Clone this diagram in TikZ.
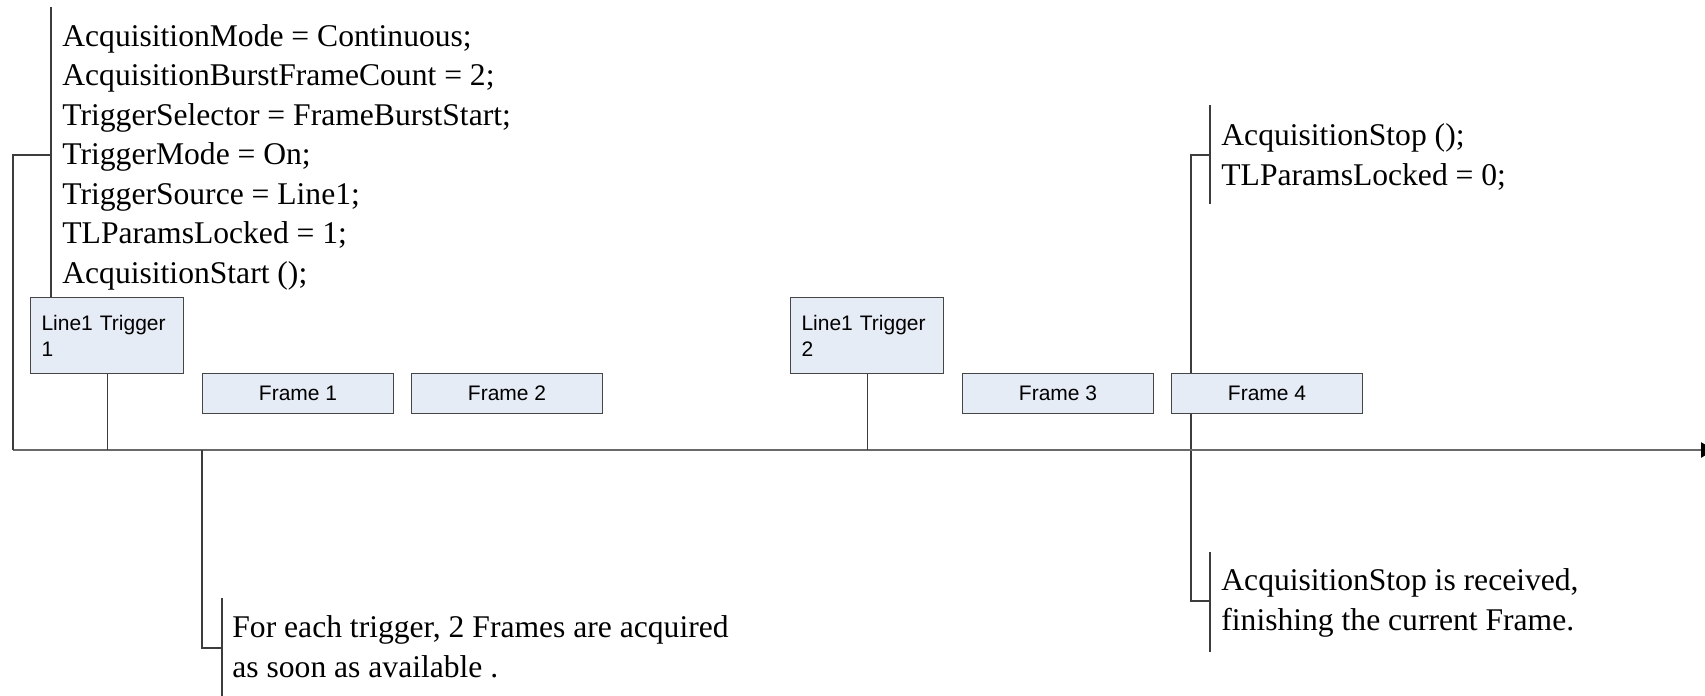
\documentclass[tikz,border=0pt]{standalone}
\usepackage{fontspec}
\setmainfont{Liberation Serif}
\newfontfamily\arialfont{Liberation Sans}
\usetikzlibrary{arrows.meta}
\definecolor{boxfill}{RGB}{230,236,246}
\definecolor{boxline}{RGB}{70,70,70}
\definecolor{leadgray}{RGB}{60,60,60}
\definecolor{axisgray}{RGB}{105,105,105}
\begin{document}
\begin{tikzpicture}[x=0.5pt,y=-0.5pt,
  boxbase/.style={draw=boxline, fill=boxfill, line width=0.55pt,
    font=\arialfont\fontsize{10.5}{13}\selectfont, anchor=north west},
  trigbox/.style={boxbase, minimum width=76.5pt, minimum height=38pt,
    inner xsep=5.5pt, inner ysep=0pt, text width=65.5pt, align=left},
  framebox/.style={boxbase, minimum width=95.5pt, minimum height=20pt, inner sep=0pt},
  note/.style={font=\fontsize{15.8}{19.75}\selectfont, align=left, inner sep=0pt, anchor=base west},
  leader/.style={draw=leadgray, line width=0.55pt},
  axisline/.style={draw=axisgray, line width=1.1pt, -{Triangle[length=7pt,width=7.5pt,color=black]}}
]
\useasboundingbox (0,0) rectangle (1705,696);

% coordinates of the axis and brackets
\coordinate (axL) at (13,450);
\coordinate (axR) at (1715,450);
\coordinate (b1t) at (51,7);
\coordinate (b1b) at (51,297);
\coordinate (b1m) at (51,155);
\coordinate (b2t) at (1210,105);
\coordinate (b2b) at (1210,204);
\coordinate (b2m) at (1210,155);
\coordinate (b3t) at (1210,552);
\coordinate (b3b) at (1210,652);
\coordinate (b3m) at (1210,601);
\coordinate (b4t) at (222,598);
\coordinate (b4b) at (222,700);
\coordinate (b4m) at (222,648);
\coordinate (s4) at (1191,155);

% leader behind Frame 4
\draw[leader] (b2m) -- (s4) -- (s4 |- b3m) -- (b3m);

% axis
\draw[axisline] (axL) -- (axR);

% boxes
\node[trigbox] (t1) at (30,297) {Line1 Trigger\\1};
\node[trigbox] (t2) at (790,297) {Line1 Trigger\\2};
\node[framebox] (f1) at (202,373) {Frame 1};
\node[framebox] (f2) at (411,373) {Frame 2};
\node[framebox] (f3) at (962,373) {Frame 3};
\node[framebox] (f4) at (1171,373) {Frame 4};

% stems
\draw[leader] (t1.south) -- (t1.south |- axL);
\draw[leader] (t2.south) -- (t2.south |- axL);

% brackets
\draw[leader] (b1t) -- (b1b);
\draw[leader] (b1m) -- (b1m -| axL) -- (axL);
\draw[leader] (b2t) -- (b2b);
\draw[leader] (b3t) -- (b3b);
\draw[leader] (b4t) -- (b4b);
\draw[leader] (f1.south west |- axL) -- (f1.south west |- b4m) -- (b4m);

% notes (anchored at the baseline of their last line)
\node[note] (n1) at (62,283) {AcquisitionMode = Continuous;\\
AcquisitionBurstFrameCount = 2;\\
TriggerSelector = FrameBurstStart;\\
TriggerMode = On;\\
TriggerSource = Line1;\\
TLParamsLocked = 1;\\
AcquisitionStart ();};
\node[note] (n2) at (1221,185) {AcquisitionStop ();\\TLParamsLocked = 0;};
\node[note] (n3) at (1221,630) {AcquisitionStop is received,\\finishing the current Frame.};
\node[note] (n4) at (232,677) {For each trigger, 2 Frames are acquired\\as soon as available .};
\end{tikzpicture}
\end{document}
